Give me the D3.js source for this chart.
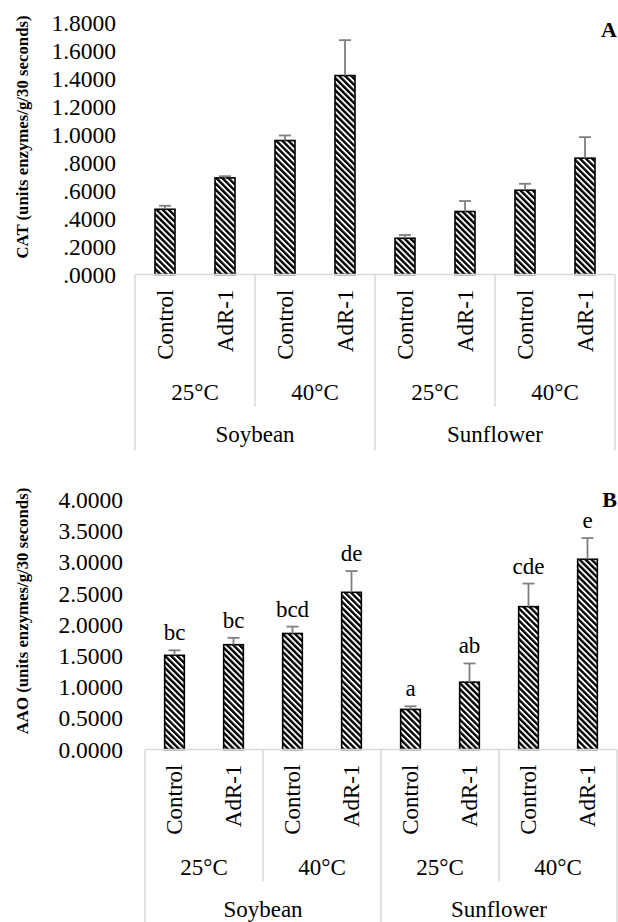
<!DOCTYPE html>
<html>
<head>
<meta charset="utf-8">
<script src="https://cdn.jsdelivr.net/npm/d3@7"></script>
<style>
  body { margin: 0; background: #fff; }
  svg { display: block; font-family: "Liberation Serif", "Times New Roman", serif; }
</style>
</head>
<body>
<div id="chart"></div>
<script>
// treatments, in plotting order
var treatments = ["Control", "AdR-1", "Control", "AdR-1", "Control", "AdR-1", "Control", "AdR-1"];
var temps = ["25°C", "40°C", "25°C", "40°C"];
var crops = ["Soybean", "Sunflower"];

// panel A - CAT
var catMeans  = [0.466, 0.690, 0.957, 1.421, 0.259, 0.450, 0.602, 0.831];
var catErrors = [0.025, 0.012, 0.036, 0.253, 0.023, 0.075, 0.046, 0.150];
var catTicks  = [0, 0.2, 0.4, 0.6, 0.8, 1.0, 1.2, 1.4, 1.6, 1.8];
var catTickLabels = [".0000", ".2000", ".4000", ".6000", ".8000", "1.0000", "1.2000", "1.4000", "1.6000", "1.8000"];

// panel B - AAO
var aaoMeans  = [1.51, 1.68, 1.86, 2.52, 0.643, 1.08, 2.29, 3.05];
var aaoErrors = [0.08, 0.11, 0.11, 0.34, 0.05, 0.30, 0.37, 0.34];
var aaoLetters = ["bc", "bc", "bcd", "de", "a", "ab", "cde", "e"];
var aaoTicks  = [0, 0.5, 1.0, 1.5, 2.0, 2.5, 3.0, 3.5, 4.0];
var aaoTickLabels = ["0.0000", "0.5000", "1.0000", "1.5000", "2.0000", "2.5000", "3.0000", "3.5000", "4.0000"];

var W = 618, H = 922;
var svg = d3.select("#chart").append("svg").attr("width", W).attr("height", H);

// wide downward diagonal hatch
var pat = svg.append("defs").append("pattern")
    .attr("id", "hatch")
    .attr("patternUnits", "userSpaceOnUse")
    .attr("width", 4.3).attr("height", 4.3)
    .attr("patternTransform", "rotate(-45)");
pat.append("rect").attr("width", 4.3).attr("height", 4.3).attr("fill", "#fff");
pat.append("rect").attr("width", 2.4).attr("height", 4.3).attr("fill", "#000");

function drawPanel(o) {
  var g = svg.append("g");
  var x = d3.scaleBand().domain(d3.range(treatments.length))
      .range([o.left, o.right]).paddingInner(2 / 3).paddingOuter(1 / 3);
  var y = d3.scaleLinear().domain([0, o.max]).range([o.y0, o.yTop]);

  // y axis labels
  var ax = g.append("g")
      .attr("transform", "translate(" + o.left + ",0)")
      .call(d3.axisLeft(y).tickValues(o.ticks).tickSize(0).tickPadding(o.pad)
        .tickFormat(function(d, i) { return o.tickLabels[i]; }));
  ax.select(".domain").remove();
  ax.selectAll("text").attr("font-size", "23.5px").attr("font-family", "Liberation Serif").attr("fill", "#000");

  // y axis title
  g.append("text")
      .attr("transform", "translate(" + o.titleX + "," + o.titleY + ") rotate(-90)")
      .attr("text-anchor", "middle").attr("dominant-baseline", "central")
      .attr("font-size", "16.8px").attr("font-weight", "bold")
      .text(o.title);

  // panel letter
  g.append("text").attr("x", W - 1).attr("y", o.letterY)
      .attr("text-anchor", "end").attr("font-size", "22px").attr("font-weight", "bold")
      .text(o.letter);

  // bars
  g.selectAll("rect.bar").data(o.means).enter().append("rect")
      .attr("class", "bar")
      .attr("x", function(d, i) { return x(i); })
      .attr("y", function(d) { return y(d); })
      .attr("width", x.bandwidth())
      .attr("height", function(d) { return o.y0 - y(d); })
      .attr("fill", "url(#hatch)")
      .attr("stroke", "#000").attr("stroke-width", 1.6);

  // error bars (plus only)
  var eb = g.selectAll("g.err").data(o.means).enter().append("g").attr("class", "err")
      .attr("stroke", "#7f7f7f").attr("stroke-width", 1.8);
  eb.append("line")
      .attr("x1", function(d, i) { return x(i) + x.bandwidth() / 2; })
      .attr("x2", function(d, i) { return x(i) + x.bandwidth() / 2; })
      .attr("y1", function(d) { return y(d); })
      .attr("y2", function(d, i) { return y(d + o.errors[i]); });
  eb.append("line")
      .attr("x1", function(d, i) { return x(i) + x.bandwidth() / 2 - 6; })
      .attr("x2", function(d, i) { return x(i) + x.bandwidth() / 2 + 6; })
      .attr("y1", function(d, i) { return y(d + o.errors[i]); })
      .attr("y2", function(d, i) { return y(d + o.errors[i]); });

  // significance letters
  if (o.letters) {
    g.selectAll("text.sig").data(o.letters).enter().append("text")
        .attr("class", "sig")
        .attr("x", function(d, i) { return x(i) + x.bandwidth() / 2; })
        .attr("y", function(d, i) { return y(o.means[i] + o.errors[i]) - 10; })
        .attr("text-anchor", "middle").attr("font-size", "23px")
        .text(function(d) { return d; });
  }

  // category axis: baseline + group separators
  var step = x.step();
  var grid = g.append("g").attr("stroke", "#d9d9d9").attr("stroke-width", 1.5);
  grid.append("line").attr("x1", o.left).attr("x2", o.right).attr("y1", o.y0).attr("y2", o.y0);
  d3.range(5).forEach(function(k) {
    var bx = o.left + k * 2 * step;
    grid.append("line").attr("x1", bx).attr("x2", bx)
        .attr("y1", o.y0).attr("y2", o.y0 + (k % 2 === 0 ? 176 : 132));
  });

  g.selectAll("text.trt").data(treatments).enter().append("text")
      .attr("class", "trt")
      .attr("transform", function(d, i) {
        return "translate(" + (x(i) + x.bandwidth() / 2) + "," + (o.y0 + 15) + ") rotate(-90)";
      })
      .attr("text-anchor", "end").attr("dominant-baseline", "central")
      .attr("font-size", "23px").text(function(d) { return d; });

  g.selectAll("text.temp").data(temps).enter().append("text")
      .attr("class", "temp")
      .attr("x", function(d, k) { return o.left + (k * 2 + 1) * step; })
      .attr("y", o.y0 + 118)
      .attr("text-anchor", "middle").attr("dominant-baseline", "central")
      .attr("font-size", "23px").text(function(d) { return d; });

  g.selectAll("text.crop").data(crops).enter().append("text")
      .attr("class", "crop")
      .attr("x", function(d, k) { return o.left + (k * 4 + 2) * step; })
      .attr("y", o.y0 + 160)
      .attr("text-anchor", "middle").attr("dominant-baseline", "central")
      .attr("font-size", "23px").text(function(d) { return d; });
}

drawPanel({
  left: 135, right: 615, y0: 274.5, yTop: 22.5, max: 1.8, pad: 19,
  ticks: catTicks, tickLabels: catTickLabels,
  means: catMeans, errors: catErrors,
  title: "CAT (units enzymes/g/30 seconds)", titleX: 22, titleY: 137,
  letter: "A", letterY: 37
});

drawPanel({
  left: 145, right: 617, y0: 749.5, yTop: 500, max: 4, pad: 22,
  ticks: aaoTicks, tickLabels: aaoTickLabels,
  means: aaoMeans, errors: aaoErrors, letters: aaoLetters,
  title: "AAO (units enzymes/g/30 seconds)", titleX: 22, titleY: 611,
  letter: "B", letterY: 507
});
</script>
</body>
</html>
